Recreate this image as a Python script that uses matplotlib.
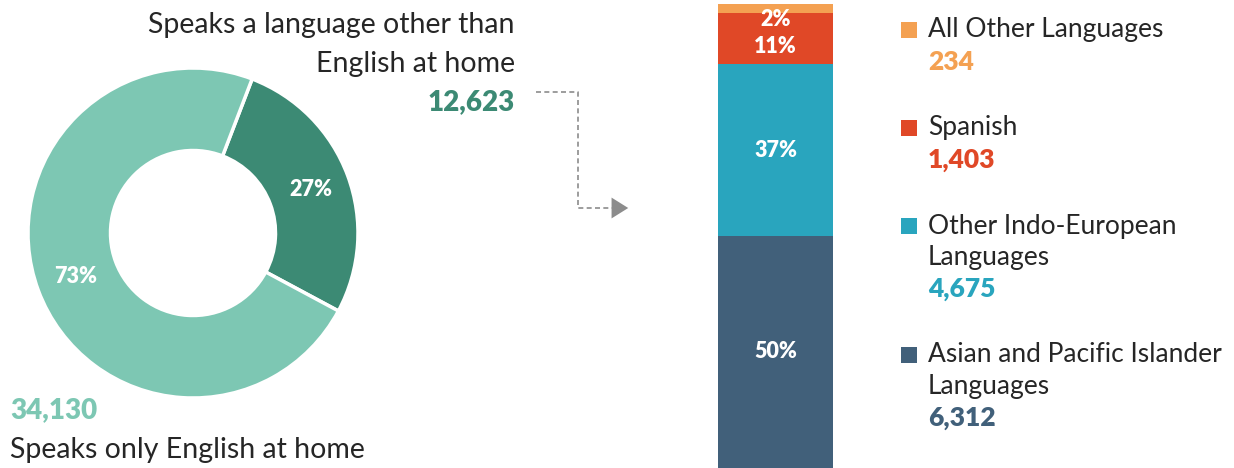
import matplotlib.pyplot as plt
from matplotlib.patches import Rectangle, FancyArrowPatch

plt.rcParams['font.family'] = ['Lato', 'DejaVu Sans']

# donut data
home_labels = ['Speaks a language other than\nEnglish at home', 'Speaks only English at home']
home_counts = [12623, 34130]
home_colors = ['#3c8a74', '#7dc7b3']

# stacked bar data (bottom to top)
lang_labels = ['Asian and Pacific Islander\nLanguages', 'Other Indo-European\nLanguages',
               'Spanish', 'All Other Languages']
lang_counts = [6312, 4675, 1403, 234]
lang_colors = ['#41607a', '#29a5be', '#e04827', '#f4a152']

W, H = 1234, 468
fig = plt.figure(figsize=(W / 100, H / 100), dpi=100)


def px(x, y):
    # pixel position (from top-left) -> figure fraction
    return x / W, 1 - y / H


text_c = '#262626'
fs = 19
bw = 'heavy'

# Donut
ax1 = fig.add_axes([28 / W, (H - 398) / H, 330 / W, 330 / H])
wedges, _, autotexts = ax1.pie(
    home_counts, colors=home_colors, startangle=69, counterclock=False,
    radius=1, autopct=lambda p: f'{p:.0f}%', pctdistance=0.76,
    wedgeprops=dict(width=0.5, edgecolor='white', linewidth=2.5),
    textprops=dict(color='white', fontsize=15.5, fontweight=bw))
ax1.set_xlim(-1, 1)
ax1.set_ylim(-1, 1)
ax1.axis('off')

fig.text(*px(515, 25), home_labels[0].split('\n')[0], ha='right', va='center',
         fontsize=20.5, color=text_c)
fig.text(*px(515, 64), home_labels[0].split('\n')[1], ha='right', va='center',
         fontsize=20.5, color=text_c)
fig.text(*px(515, 102), f'{home_counts[0]:,}', ha='right', va='center',
         fontsize=20, fontweight=bw, color=home_colors[0])
fig.text(*px(10, 410), f'{home_counts[1]:,}', ha='left', va='center',
         fontsize=20, fontweight=bw, color=home_colors[1])
fig.text(*px(10, 450), home_labels[1], ha='left', va='center',
         fontsize=20.5, color=text_c)

# dashed connector arrow
line_x = [536, 578, 578, 612]
line_y = [92, 92, 208, 208]
fx = [x / W for x in line_x]
fy = [1 - y / H for y in line_y]
fig.add_artist(plt.Line2D(fx, fy, transform=fig.transFigure, color='#8c8c8c',
                          lw=1.2, ls=(0, (3, 2))))
fig.add_artist(FancyArrowPatch(px(612, 208), px(631, 208), transform=fig.transFigure,
                               arrowstyle='-|>,head_length=8,head_width=5',
                               color='#8c8c8c', lw=0, mutation_scale=1.5))

# Stacked bar
ax2 = fig.add_axes([718 / W, 0, 115 / W, 464 / H])
total_lang = sum(lang_counts)
bottom = 0
nudges = [0, 0, -6, -8]
for cnt, col, dy in zip(lang_counts, lang_colors, nudges):
    ax2.bar(0, cnt, bottom=bottom, width=1, color=col, linewidth=0)
    ax2.annotate(f'{cnt / total_lang * 100:.0f}%', (0, bottom + cnt / 2),
                 xytext=(0, dy), textcoords='offset points',
                 ha='center', va='center', color='white', fontsize=15.5,
                 fontweight=bw)
    bottom += cnt
ax2.set_xlim(-0.5, 0.5)
ax2.set_ylim(0, total_lang)
ax2.axis('off')

# manual legend
leg_y = [355, 226, 128, 30]
for lab, cnt, col, y0 in zip(lang_labels, lang_counts, lang_colors, leg_y):
    sx, sy = px(901, y0 + 8)
    fig.add_artist(Rectangle((sx, sy), 16 / W, 16 / H, transform=fig.transFigure,
                             color=col, lw=0))
    lines = lab.split('\n')
    for i, ln in enumerate(lines):
        fig.text(*px(928, y0 + 31.5 * i), ln, ha='left', va='center',
                 fontsize=fs, color=text_c)
    fig.text(*px(928, y0 + 31.5 * len(lines)), f'{cnt:,}', ha='left', va='center',
             fontsize=fs, fontweight=bw, color=col)

plt.savefig('out.png', dpi=100)
